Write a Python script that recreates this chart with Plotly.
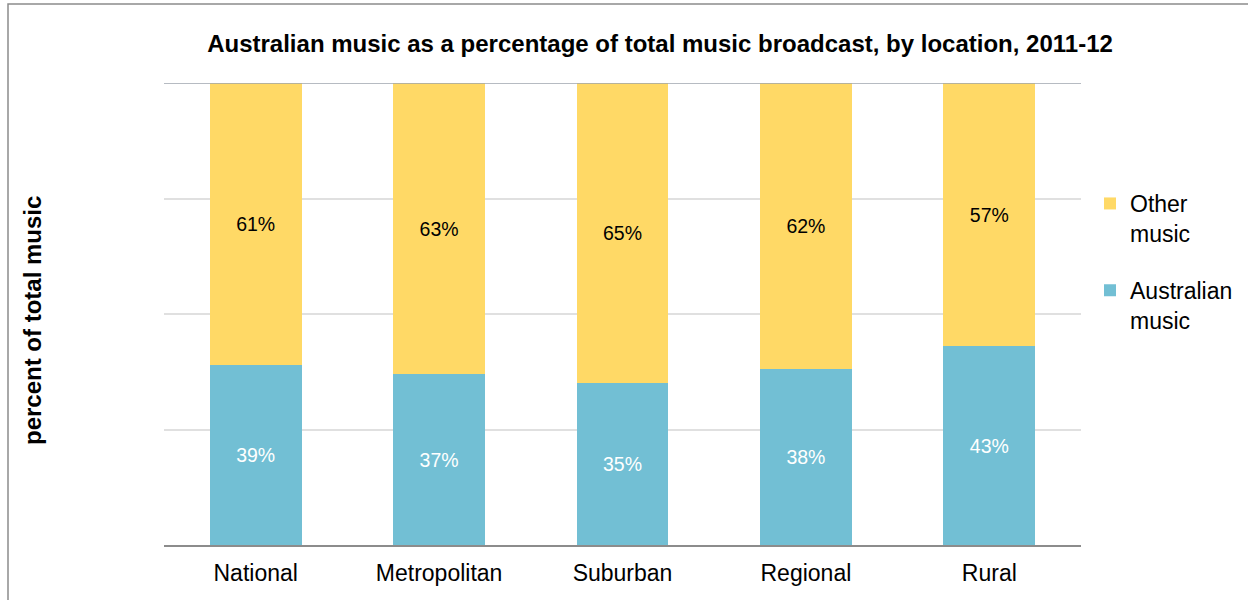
import plotly.graph_objects as go

# Share of music broadcast by location, 2011-12
locations = ["National", "Metropolitan", "Suburban", "Regional", "Rural"]
australian_pct = [39, 37, 35, 38, 43]
other_pct = [61, 63, 65, 62, 57]

FONT = "Liberation Sans, Arial, sans-serif"
BLUE = "#72BFD4"
YELLOW = "#FFD966"

fig = go.Figure()

fig.add_trace(go.Bar(
    x=locations, y=australian_pct,
    name="Australian<br>music",
    legendgroup="aus",
    legendrank=2,
    marker=dict(color=BLUE, line=dict(width=0)),
    texttemplate="%{y}%",
    textposition="inside",
    insidetextanchor="middle",
    textangle=0,
    textfont=dict(family=FONT, size=19.5, color="white"),
    width=0.5,
))
fig.add_trace(go.Bar(
    x=locations, y=other_pct,
    name="Other<br>music",
    legendgroup="other",
    legendrank=1,
    marker=dict(color=YELLOW, line=dict(width=0)),
    texttemplate="%{y}%",
    textposition="inside",
    insidetextanchor="middle",
    textangle=0,
    textfont=dict(family=FONT, size=19.5, color="black"),
    width=0.5,
))

W, H = 1248, 600
ml, mr, mt, mb = 164, 167, 83, 55
pw, ph = W - ml - mr, H - mt - mb

def px_x(px):
    return (px - ml) / pw

def px_y(py):
    return (H - mb - py) / ph

fig.update_layout(
    width=W, height=H, autosize=False,
    margin=dict(l=ml, r=mr, t=mt, b=mb, pad=0, autoexpand=False),
    barmode="stack",
    bargap=0.5,
    paper_bgcolor="white",
    plot_bgcolor="white",
    font=dict(family=FONT, color="black"),
    title=dict(
        text="<b>Australian music as a percentage of total music broadcast, by location, 2011-12</b>",
        font=dict(family=FONT, size=24, color="black"),
        xref="container", x=660 / W, xanchor="center",
        yref="container", y=1 - 44 / H, yanchor="middle",
    ),
    xaxis=dict(
        showgrid=False,
        showline=True, linecolor="#8C8C8C", linewidth=2,
        ticks="",
        ticklabelstandoff=6,
        tickfont=dict(family=FONT, size=23, color="black"),
        fixedrange=True,
    ),
    yaxis=dict(
        range=[0, 100],
        dtick=25,
        showgrid=True, gridcolor="#E0E0E0", gridwidth=1.5,
        showticklabels=False,
        zeroline=False,
        showline=False,
        ticks="",
        fixedrange=True,
    ),
    legend=dict(
        xref="container", x=1090 / W, xanchor="left",
        yref="container", y=1 - 182 / H, yanchor="top",
        traceorder="grouped",
        tracegroupgap=24,
        valign="top",
        font=dict(family=FONT, size=23, color="black"),
        bgcolor="rgba(0,0,0,0)",
        borderwidth=0,
    ),
    showlegend=True,
)

# Darker rule along the top of the value range
fig.add_shape(
    type="line", xref="paper", yref="y",
    x0=0, x1=1, y0=100, y1=100,
    line=dict(color="#9EA4AE", width=1.5),
    layer="above",
)

# Outer chart frame (right and bottom edges fall outside the page)
fig.add_shape(
    type="rect", xref="paper", yref="paper",
    x0=px_x(8), x1=px_x(W + 12),
    y0=px_y(H + 12), y1=px_y(4),
    line=dict(color="#8C8C8C", width=1.5),
    fillcolor="rgba(0,0,0,0)",
    layer="above",
)

fig.add_annotation(
    text="<b>percent of total music</b>",
    xref="paper", yref="paper",
    x=px_x(32), y=px_y(321),
    xanchor="center", yanchor="middle",
    textangle=-90,
    showarrow=False,
    font=dict(family=FONT, size=24, color="black"),
)

fig.write_html("out.html")
